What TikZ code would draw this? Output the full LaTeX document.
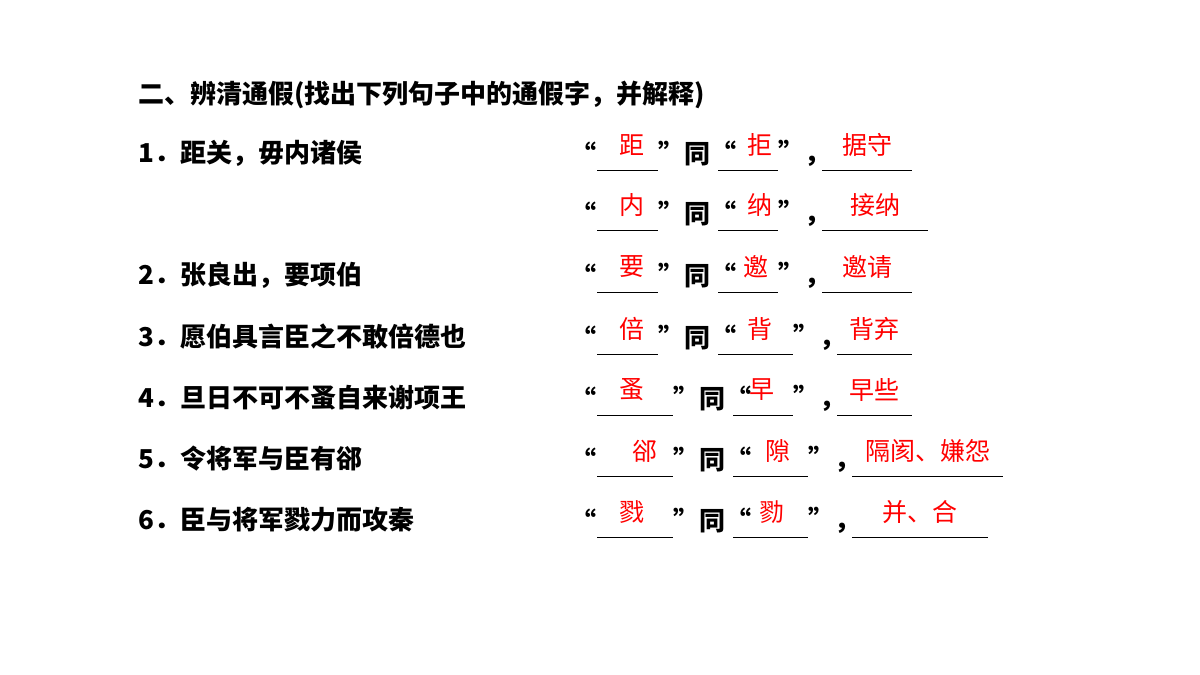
\documentclass[tikz,border=0pt]{standalone}
\usepackage{fontspec}
\setmainfont{Liberation Serif}
\newfontfamily\cjk{Noto Sans CJK SC}
\usetikzlibrary{positioning}
\tikzset{
  item/.style={anchor=west,inner sep=0pt,font=\fontsize{26}{30}\selectfont\bfseries\cjk},
  ans/.style={inner sep=0pt,text=red,font=\fontsize{25}{30}\selectfont\cjk},
  blank/.style={line width=1pt}
}
\begin{document}
\begin{tikzpicture}[x=1pt,y=-1pt]
\useasboundingbox[fill=white] (0,0) rectangle (1200,675);
\node[item] (title) at (138,95) {二、辨清通假(找出下列句子中的通假字，并解释)};
\node[item] (q1) at (138,153) {1．距关，毋内诸侯};
\node[item] (q2) at (138,275) {2．张良出，要项伯};
\node[item] (q3) at (138,337) {3．愿伯具言臣之不敢倍德也};
\node[item] (q4) at (138,398) {4．旦日不可不蚤自来谢项王};
\node[item] (q5) at (138,459) {5．令将军与臣有郤};
\node[item] (q6) at (138,520) {6．臣与将军戮力而攻秦};
% row: y / blank1 / answer1 / blank2 / answer2 / blank3 / answer3
\foreach \y/\ra/\rb/\xa/\sa/\ta/\tb/\xb/\sb/\ua/\ub/\sc [count=\i] in {
  153/597/658/632/距/718/778/760/拒/822/912/据守,
  213/597/658/632/内/718/778/760/纳/822/928/接纳,
  275/597/658/632/要/718/778/756/邀/822/912/邀请,
  337/597/658/632/倍/718/793/760/背/837/912/背弃,
  398/597/673/632/蚤/733/793/762/早/837/912/早些,
  459/597/673/645/郤/733/808/778/隙/852/1003/隔阂、嫌怨,
  520/597/673/632/戮/733/808/772/勠/852/988/并、合}{
  \node[item,anchor=east] (lq\i) at (\ra,\y) {“};
  \node[item] (tong\i) at (\rb,\y) {”同“};
  \node[item] (dou\i) at (\tb,\y) {”，};
  \draw[blank] (\ra,\y+17) -- (\rb,\y+17);
  \draw[blank] (\ta,\y+17) -- (\tb,\y+17);
  \draw[blank] (\ua,\y+17) -- (\ub,\y+17);
  \node[ans] (a\i) at (\xa,\y-8) {\sa};
  \node[ans] (b\i) at (\xb,\y-8) {\sb};
  \node[ans] (c\i) at ({(\ua+\ub)/2},\y-8) {\sc};
}
\end{tikzpicture}
\end{document}
